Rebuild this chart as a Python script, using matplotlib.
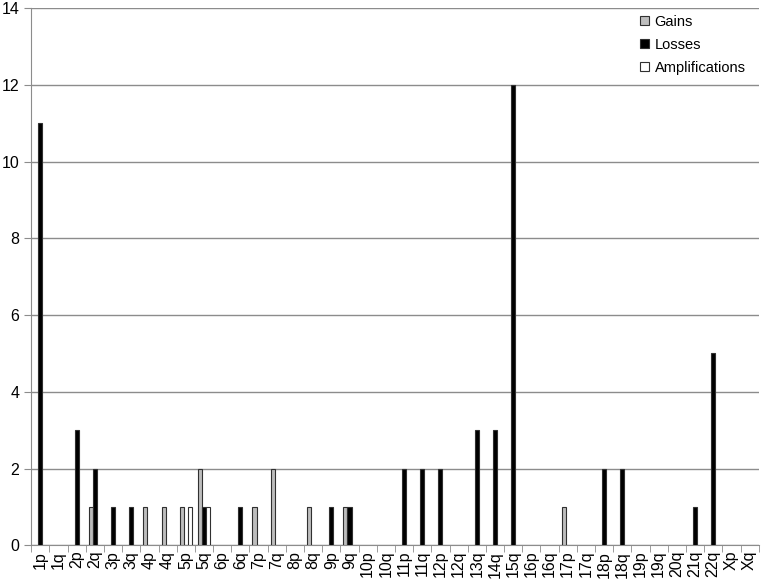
import numpy as np
import matplotlib.pyplot as plt

plt.rcParams['font.family'] = ['Liberation Sans', 'DejaVu Sans']

# chromosome arms on the x axis
arms = ['1p', '1q', '2p', '2q', '3p', '3q', '4p', '4q', '5p', '5q',
        '6p', '6q', '7p', '7q', '8p', '8q', '9p', '9q', '10p', '10q',
        '11p', '11q', '12p', '12q', '13q', '14q', '15q', '16p', '16q', '17p',
        '17q', '18p', '18q', '19p', '19q', '20q', '21q', '22q', 'Xp', 'Xq']

gains = [0, 0, 0, 1, 0, 0, 1, 1, 1, 2,
         0, 0, 1, 2, 0, 1, 0, 1, 0, 0,
         0, 0, 0, 0, 0, 0, 0, 0, 0, 1,
         0, 0, 0, 0, 0, 0, 0, 0, 0, 0]
losses = [11, 0, 3, 2, 1, 1, 0, 0, 0, 1,
          0, 1, 0, 0, 0, 0, 1, 1, 0, 0,
          2, 2, 2, 0, 3, 3, 12, 0, 0, 0,
          0, 2, 2, 0, 0, 0, 1, 5, 0, 0]
amplifications = [0, 0, 0, 0, 0, 0, 0, 0, 1, 1,
                  0, 0, 0, 0, 0, 0, 0, 0, 0, 0,
                  0, 0, 0, 0, 0, 0, 0, 0, 0, 0,
                  0, 0, 0, 0, 0, 0, 0, 0, 0, 0]

series = [('Gains', gains, '#bdbdbd'),
          ('Losses', losses, 'black'),
          ('Amplifications', amplifications, 'white')]

fig = plt.figure(figsize=(7.61, 5.85), dpi=100)
ax = fig.add_axes([0.041, 0.068, 0.956, 0.918])

x = np.arange(len(arms))
w = 1 / 4.5
for k, (name, vals, color) in enumerate(series):
    vals = np.array(vals)
    keep = vals > 0
    ax.bar(x[keep] + (k - 1) * w, vals[keep], width=w, color=color,
           edgecolor='#303030', linewidth=0.8, zorder=3)
    # empty handle for the legend
    ax.bar([0], [0], width=0, color=color, edgecolor='#303030',
           linewidth=0.8, label=name)

ax.set_xlim(-0.5, len(arms) - 0.5)
ax.set_ylim(0, 14)
ax.set_yticks(range(0, 15, 2))
ax.yaxis.grid(True, color='#8c8c8c', linewidth=1)
ax.set_axisbelow(True)

ax.set_xticks(x)
ax.set_xticklabels(arms, rotation=90, fontsize=11.5)
ax.set_xticks(np.arange(-0.5, len(arms)), minor=True)
ax.tick_params(axis='x', which='major', length=0, pad=4)
ax.tick_params(axis='x', which='minor', length=5, color='#8c8c8c')
ax.tick_params(axis='y', length=5, color='#8c8c8c', labelsize=11.5)

for s in ['top', 'right']:
    ax.spines[s].set_visible(False)
for s in ['left', 'bottom']:
    ax.spines[s].set_color('#8c8c8c')

ax.legend(loc='upper right', bbox_to_anchor=(1.0, 1.012), frameon=False,
          fontsize=10.5, handlelength=0.6, handleheight=0.6,
          handletextpad=0.4, labelspacing=0.62)

fig.savefig('out.png', dpi=100)
